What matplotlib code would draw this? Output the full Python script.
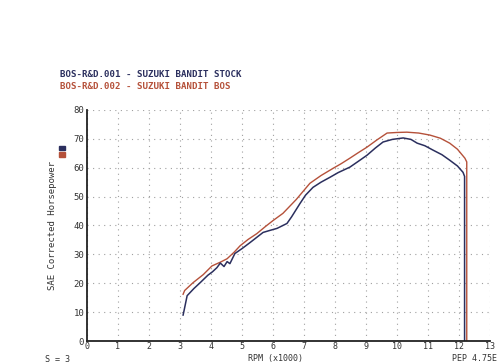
import matplotlib.pyplot as plt

# dyno run readings (rpm x1000, SAE corrected hp)
rpm_stock = [3.10, 3.13, 3.23, 3.45, 3.65, 3.9, 4.05, 4.19, 4.3, 4.42, 4.52, 4.61, 4.77,
             5.0, 5.26, 5.68, 5.9, 6.13, 6.45, 6.6, 6.87, 7.05, 7.29, 7.55, 7.84,
             8.1, 8.48, 8.75, 9.03, 9.3, 9.55, 9.85, 10.2, 10.45, 10.65, 10.9,
             11.16, 11.45, 11.7, 11.95, 12.13, 12.18, 12.18]
hp_stock = [9.0, 10.5, 15.7, 18.2, 20.2, 22.8, 24.0, 25.4, 27.0, 25.8, 27.5, 26.8, 30.3,
            32.0, 34.1, 37.6, 38.3, 39.0, 40.7, 43.0, 47.6, 50.5, 53.2, 55.0, 56.7,
            58.3, 60.2, 62.2, 64.3, 66.8, 68.9, 69.8, 70.3, 69.8, 68.5, 67.6,
            66.1, 64.5, 62.6, 60.6, 58.4, 57.0, 0.0]

rpm_bos = [3.10, 3.15, 3.42, 3.75, 4.03, 4.3, 4.52, 4.75, 4.94, 5.2, 5.48, 5.75, 6.0,
           6.32, 6.75, 7.19, 7.55, 7.94, 8.2, 8.48, 8.75, 9.03, 9.35, 9.68, 10.0,
           10.32, 10.7, 11.06, 11.4, 11.7, 11.95, 12.19, 12.25, 12.25]
hp_bos = [16.2, 17.5, 20.2, 23.0, 26.0, 27.3, 28.5, 30.8, 33.0, 35.2, 37.2, 39.6, 41.7,
          44.2, 49.0, 54.6, 57.3, 59.8, 61.4, 63.3, 65.2, 67.1, 69.6, 72.0, 72.2,
          72.3, 72.0, 71.3, 70.2, 68.5, 66.4, 63.3, 62.0, 0.0]

x_ticks = list(range(0, 14))
y_ticks = list(range(0, 81, 10))

navy = '#2b2f5e'
rust = '#b5513a'
mono = 'DejaVu Sans Mono'

fig = plt.figure(figsize=(5.0, 3.64), dpi=100)
ax = fig.add_axes([0.174, 0.063, 0.806, 0.635])

ax.plot(rpm_bos, hp_bos, color=rust, linewidth=1.0)
ax.plot(rpm_stock, hp_stock, color=navy, linewidth=1.1)

ax.set_xlim(0, 13)
ax.set_ylim(0, 80)
ax.set_xticks(x_ticks)
ax.set_yticks(y_ticks)
ax.set_xticklabels([str(t) for t in x_ticks], family=mono, fontsize=6, color='#333333')
ax.set_yticklabels([str(t) for t in y_ticks], family=mono, fontsize=6.5, color='#333333')
ax.tick_params(axis='x', length=0, pad=1)
ax.tick_params(axis='y', length=0, pad=2)
ax.grid(True, color='#a0a0a0', linestyle=(0, (1, 4)), linewidth=0.8)

for side in ['top', 'right']:
    ax.spines[side].set_visible(False)
for side in ['left', 'bottom']:
    ax.spines[side].set_linewidth(1.3)
    ax.spines[side].set_color('#222222')

ax.set_ylabel('SAE Corrected Horsepower', family=mono, fontsize=6.5, color='#333333', labelpad=12)

fig.text(0.12, 0.795, 'BOS-R&D.001 - SUZUKI BANDIT STOCK', family=mono, fontsize=6.6,
         color=navy, weight='bold', va='center')
fig.text(0.12, 0.762, 'BOS-R&D.002 - SUZUKI BANDIT BOS', family=mono, fontsize=6.6,
         color=rust, weight='bold', va='center')

# little colour keys beside the axis title
fig.patches.append(plt.Rectangle((0.118, 0.587), 0.012, 0.012, transform=fig.transFigure,
                                 color=navy))
fig.patches.append(plt.Rectangle((0.118, 0.570), 0.012, 0.012, transform=fig.transFigure,
                                 color=rust))

fig.text(0.55, 0.003, 'RPM (x1000)', family=mono, fontsize=6, color='#333333',
         ha='center', va='bottom')
fig.text(0.09, 0.0, 'S = 3', family=mono, fontsize=6, color='#333333', va='bottom')
fig.text(0.995, 0.003, 'PEP 4.75E', family=mono, fontsize=6, color='#333333',
         ha='right', va='bottom')

fig.savefig('out.png', dpi=100)
